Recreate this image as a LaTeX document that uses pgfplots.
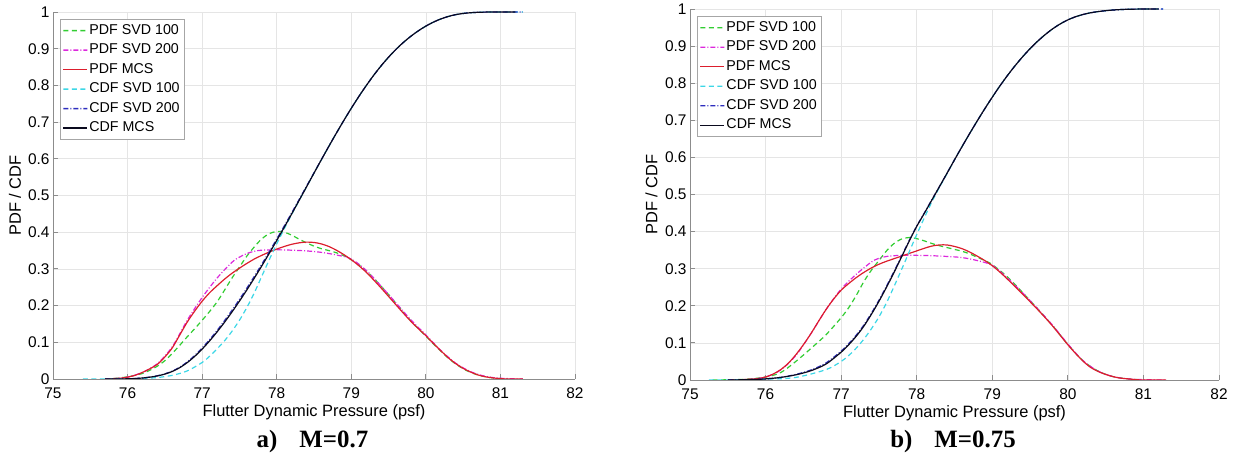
\documentclass[border=0pt]{standalone}
\usepackage{pgfplots}
\pgfplotsset{compat=1.18}
\usepackage{fontspec}
\setmainfont{Liberation Sans}
\newfontfamily\capfont{Liberation Serif}
\definecolor{cG}{RGB}{50,205,50}
\definecolor{cM}{RGB}{220,40,220}
\definecolor{cR}{RGB}{220,30,45}
\definecolor{cC}{RGB}{60,215,230}
\definecolor{cB}{RGB}{45,45,190}
\definecolor{cK}{RGB}{10,10,30}
\newcommand{\lr}[2]{\pgfpathrectangle{\pgfpoint{#1bp}{-0.65bp}}{\pgfpoint{#2bp}{1.3bp}}}
\newcommand{\legfill}[2]{\color{#1}\pgfsetfillcolor{#1}#2\pgfusepath{fill}}
\newcommand{\dashA}{\lr{0}{5}\lr{8.5}{5}\lr{17}{5}}
\newcommand{\dashB}{\lr{0}{5}\lr{7}{1}\lr{10}{5}\lr{17}{1}\lr{20}{4}}
\newcommand{\dashN}{\lr{0}{24}}
\pgfplotsset{
 mystyle/.style={
  scale only axis, xmin=75, xmax=82, ymin=0, ymax=1,
  xtick={75,76,77,78,79,80,81,82},
  ytick={0,0.1,0.2,0.3,0.4,0.5,0.6,0.7,0.8,0.9,1},
  axis x line*=bottom, axis y line*=left,
  axis line style={black!45, line width=0.8bp},
  tick align=inside, major tick length=5bp,
  tick style={black!45, line width=0.8bp},
  grid=major, major grid style={black!10, line width=0.6bp},
  /pgf/number format/assume math mode=true,
  tick label style={font=\fontsize{15.5}{18}\selectfont},
  xticklabel style={yshift=-5bp},
  label style={font=\fontsize{16.5}{19}\selectfont},
  xlabel={Flutter Dynamic Pressure (psf)}, ylabel={PDF / CDF},
  xlabel style={at={(axis description cs:0.5,-0.09)}, anchor=center},
  ylabel style={at={(axis description cs:-0.073,0.5)}, anchor=center},
  legend cell align=left,
  legend style={at={(0.0134,0.981)}, anchor=north west, draw=black!35, line width=0.8bp, fill=white,
    font=\fontsize{14.3}{16}\selectfont, inner xsep=3bp, inner ysep=2bp, row sep=1bp,
    nodes={inner xsep=2bp, inner ysep=2.5bp, text height=10.5bp, text depth=3bp}},
 },
 sG/.style={draw=cG, line width=1.2bp, dash pattern=on 5bp off 3.5bp, legend image code/.code={\legfill{cG}{\dashA}}},
 sM/.style={draw=cM, line width=1.2bp, dash pattern=on 5bp off 2bp on 1bp off 2bp, legend image code/.code={\legfill{cM}{\dashB}}},
 sR/.style={draw=cR, line width=1.2bp, legend image code/.code={\legfill{cR}{\dashN}}},
 sC/.style={draw=cC, line width=1.2bp, dash pattern=on 5bp off 3.5bp, legend image code/.code={\legfill{cC}{\dashA}}},
 sB/.style={draw=cB, line width=1.2bp, dash pattern=on 5bp off 2bp on 1bp off 2bp, legend image code/.code={\legfill{cB}{\dashB}}},
 sK/.style={draw=cK, line width=1.2bp, legend image code/.code={\legfill{cK}{\dashN}}},
}
\begin{document}
\begin{tikzpicture}
\path[use as bounding box] (0,0) rectangle (1237bp,463bp);
% ---------------- a) M=0.7 ----------------
\begin{axis}[mystyle, at={(53bp,84bp)}, anchor=south west, width=522bp, height=367bp]
\addplot[sG, smooth] coordinates {(75.7,0)(75.8,0.001)(75.9,0.003)(76.0,0.006)(76.1,0.010)(76.2,0.015)(76.3,0.024)(76.4,0.035)(76.5,0.050)(76.6,0.070)(76.7,0.092)(76.8,0.115)(76.9,0.137)(77.0,0.160)(77.1,0.184)(77.2,0.210)(77.3,0.242)(77.4,0.275)(77.5,0.305)(77.6,0.335)(77.7,0.360)(77.8,0.382)(77.9,0.396)(78.0,0.402)(78.1,0.400)(78.2,0.392)(78.3,0.381)(78.4,0.371)(78.5,0.362)(78.6,0.355)(78.7,0.350)(78.8,0.344)(78.9,0.336)(79.0,0.325)(79.1,0.312)(79.2,0.295)(79.3,0.275)(79.4,0.253)(79.5,0.230)(79.6,0.206)(79.7,0.182)(79.8,0.158)(79.9,0.137)(80.0,0.117)(80.1,0.096)(80.2,0.076)(80.3,0.057)(80.4,0.041)(80.5,0.028)(80.6,0.018)(80.7,0.011)(80.8,0.006)(80.9,0.003)(81.0,0.001)(81.1,0)};
\addlegendentry{PDF SVD 100}
\addplot[sM, smooth] coordinates {(75.7,0)(75.9,0.002)(76.0,0.005)(76.2,0.018)(76.4,0.042)(76.6,0.088)(76.8,0.160)(77.0,0.222)(77.2,0.275)(77.4,0.318)(77.5,0.332)(77.6,0.342)(77.7,0.348)(77.8,0.351)(78.0,0.352)(78.2,0.351)(78.4,0.349)(78.6,0.345)(78.8,0.338)(79.0,0.327)(79.2,0.296)(79.4,0.253)(79.6,0.207)(79.8,0.161)(80.0,0.120)(80.2,0.078)(80.4,0.043)(80.6,0.020)(80.8,0.007)(81.0,0.002)(81.3,0)};
\addlegendentry{PDF SVD 200}
\addplot[sR, smooth] coordinates {(75.7,0)(75.8,0.001)(75.9,0.002)(76.0,0.005)(76.1,0.010)(76.2,0.018)(76.3,0.028)(76.4,0.040)(76.5,0.060)(76.6,0.085)(76.7,0.120)(76.8,0.155)(76.9,0.185)(77.0,0.212)(77.1,0.235)(77.2,0.254)(77.3,0.272)(77.4,0.288)(77.5,0.302)(77.6,0.315)(77.7,0.327)(77.8,0.337)(77.9,0.346)(78.0,0.354)(78.1,0.361)(78.2,0.367)(78.3,0.371)(78.4,0.373)(78.5,0.372)(78.6,0.368)(78.7,0.361)(78.8,0.351)(78.9,0.339)(79.0,0.325)(79.1,0.309)(79.2,0.291)(79.3,0.270)(79.4,0.248)(79.5,0.225)(79.6,0.202)(79.7,0.179)(79.8,0.157)(79.9,0.137)(80.0,0.118)(80.1,0.097)(80.2,0.077)(80.3,0.058)(80.4,0.042)(80.5,0.029)(80.6,0.019)(80.7,0.011)(80.8,0.006)(80.9,0.003)(81.0,0.001)(81.1,0)(81.3,0)};
\addlegendentry{PDF MCS}
\addplot[sC, smooth] coordinates {(75.4,0)(75.7,0.0001)(76.0,0.0004)(76.2,0.0015)(76.4,0.004)(76.6,0.010)(76.8,0.022)(77.0,0.045)(77.1,0.062)(77.2,0.082)(77.3,0.104)(77.4,0.130)(77.5,0.160)(77.6,0.195)(77.7,0.235)(77.8,0.280)(77.9,0.325)(78.0,0.368)(78.1,0.409)(78.2,0.448)(78.3,0.486)(78.4,0.5236)(78.5,0.5609)(78.6,0.5979)(78.7,0.6343)(78.8,0.6699)(78.9,0.7044)(79.0,0.7376)(79.1,0.7693)(79.2,0.7993)(79.3,0.8274)(79.4,0.8533)(79.5,0.8769)(79.6,0.8983)(79.7,0.9173)(79.8,0.9341)(79.9,0.9488)(80.0,0.9616)(80.1,0.9723)(80.2,0.9810)(80.3,0.9878)(80.4,0.9928)(80.5,0.9960)(80.6,0.9980)(80.7,0.9992)(80.8,0.9997)(81.0,1.0)(81.3,1.0)};
\addlegendentry{CDF SVD 100}
\addplot[sB, smooth] coordinates {(75.7,0)(75.9,0.0002)(76.0,0.0005)(76.1,0.0014)(76.2,0.0029)(76.3,0.0053)(76.4,0.0089)(76.5,0.0141)(76.6,0.0215)(76.7,0.0322)(76.8,0.0465)(76.9,0.0640)(77.0,0.0845)(77.1,0.1072)(77.2,0.1320)(77.3,0.1590)(77.4,0.1872)(77.5,0.2168)(77.6,0.2477)(77.7,0.2798)(77.8,0.3128)(77.9,0.3468)(78.0,0.3814)(78.1,0.4166)(78.2,0.4525)(78.3,0.4888)(78.4,0.5254)(78.5,0.5620)(78.6,0.5985)(78.7,0.6346)(78.8,0.6700)(78.9,0.7044)(79.0,0.7376)(79.1,0.7693)(79.2,0.7993)(79.3,0.8274)(79.4,0.8533)(79.5,0.8769)(79.6,0.8983)(79.7,0.9173)(79.8,0.9341)(79.9,0.9488)(80.0,0.9616)(80.1,0.9723)(80.2,0.9810)(80.3,0.9878)(80.4,0.9928)(80.5,0.9960)(80.6,0.9980)(80.7,0.9992)(80.8,0.9997)(81.0,1.0)(81.3,1.0)};
\addlegendentry{CDF SVD 200}
\addplot[sK, smooth] coordinates {(75.7,0)(75.9,0.0002)(76.0,0.0005)(76.1,0.0013)(76.2,0.0027)(76.3,0.005)(76.4,0.0084)(76.5,0.0134)(76.6,0.0206)(76.7,0.0309)(76.8,0.0446)(76.9,0.0616)(77.0,0.0815)(77.1,0.1038)(77.2,0.1283)(77.3,0.1546)(77.4,0.1826)(77.5,0.2121)(77.6,0.2429)(77.7,0.2750)(77.8,0.3082)(77.9,0.3424)(78.0,0.3774)(78.1,0.4131)(78.2,0.4495)(78.3,0.4864)(78.4,0.5236)(78.5,0.5609)(78.6,0.5979)(78.7,0.6343)(78.8,0.6699)(78.9,0.7044)(79.0,0.7376)(79.1,0.7693)(79.2,0.7993)(79.3,0.8274)(79.4,0.8533)(79.5,0.8769)(79.6,0.8983)(79.7,0.9173)(79.8,0.9341)(79.9,0.9488)(80.0,0.9616)(80.1,0.9723)(80.2,0.9810)(80.3,0.9878)(80.4,0.9928)(80.5,0.9960)(80.6,0.9980)(80.7,0.9992)(80.8,0.9997)(81.0,1.0)(81.2,1.0)};
\addlegendentry{CDF MCS}
\end{axis}
% ---------------- b) M=0.75 ----------------
\begin{axis}[mystyle, at={(690bp,83bp)}, anchor=south west, width=529bp, height=371bp]
\addplot[sG, smooth] coordinates {(75.3,0)(75.6,0.001)(75.8,0.003)(76.0,0.008)(76.2,0.020)(76.4,0.050)(76.6,0.085)(76.8,0.122)(77.0,0.168)(77.1,0.195)(77.2,0.228)(77.3,0.265)(77.4,0.296)(77.5,0.322)(77.6,0.348)(77.7,0.368)(77.8,0.380)(77.9,0.384)(78.0,0.381)(78.1,0.375)(78.2,0.368)(78.3,0.362)(78.4,0.357)(78.5,0.352)(78.6,0.347)(78.7,0.340)(78.8,0.331)(78.9,0.322)(79.0,0.311)(79.2,0.278)(79.4,0.236)(79.6,0.192)(79.8,0.146)(80.0,0.096)(80.2,0.052)(80.4,0.024)(80.6,0.009)(80.8,0.003)(81.0,0)};
\addlegendentry{PDF SVD 100}
\addplot[sM, smooth] coordinates {(75.5,0)(75.8,0.002)(76.0,0.008)(76.2,0.027)(76.4,0.066)(76.6,0.125)(76.8,0.190)(77.0,0.245)(77.2,0.285)(77.4,0.318)(77.5,0.328)(77.6,0.333)(77.7,0.335)(77.8,0.336)(78.0,0.336)(78.2,0.335)(78.4,0.333)(78.6,0.330)(78.8,0.322)(79.0,0.309)(79.2,0.275)(79.4,0.235)(79.6,0.192)(79.8,0.147)(80.0,0.097)(80.2,0.052)(80.4,0.024)(80.6,0.009)(80.8,0.003)(81.0,0.001)(81.3,0)};
\addlegendentry{PDF SVD 200}
\addplot[sR, smooth] coordinates {(75.5,0)(75.7,0.001)(75.9,0.004)(76.0,0.008)(76.1,0.016)(76.2,0.028)(76.3,0.045)(76.4,0.068)(76.5,0.095)(76.6,0.125)(76.7,0.158)(76.8,0.190)(76.9,0.218)(77.0,0.242)(77.1,0.260)(77.2,0.276)(77.3,0.290)(77.4,0.302)(77.5,0.312)(77.6,0.320)(77.7,0.327)(77.8,0.334)(77.9,0.341)(78.0,0.348)(78.1,0.355)(78.2,0.361)(78.3,0.364)(78.4,0.364)(78.5,0.360)(78.6,0.354)(78.7,0.345)(78.8,0.334)(78.9,0.322)(79.0,0.308)(79.1,0.291)(79.2,0.272)(79.3,0.252)(79.4,0.232)(79.5,0.211)(79.6,0.190)(79.7,0.168)(79.8,0.145)(79.9,0.120)(80.0,0.095)(80.1,0.072)(80.2,0.051)(80.3,0.034)(80.4,0.023)(80.5,0.015)(80.6,0.009)(80.7,0.005)(80.8,0.003)(80.9,0.001)(81.0,0)(81.3,0)};
\addlegendentry{PDF MCS}
\addplot[sC, smooth] coordinates {(75.25,0)(75.5,0.0003)(76.0,0.002)(76.4,0.007)(76.8,0.028)(77.0,0.050)(77.1,0.066)(77.2,0.086)(77.3,0.110)(77.4,0.138)(77.5,0.170)(77.6,0.208)(77.7,0.252)(77.8,0.298)(77.9,0.345)(78.0,0.392)(78.1,0.437)(78.2,0.480)(78.3,0.519)(78.4,0.556)(78.5,0.5935)(78.6,0.6292)(78.7,0.6642)(78.8,0.6981)(78.9,0.7309)(79.0,0.7624)(79.1,0.7924)(79.2,0.8205)(79.3,0.8467)(79.4,0.8709)(79.5,0.8931)(79.6,0.9131)(79.7,0.9310)(79.8,0.9467)(79.9,0.9599)(80.0,0.9707)(80.1,0.9790)(80.2,0.9852)(80.3,0.9898)(80.4,0.9930)(80.5,0.9955)(80.6,0.9973)(80.7,0.9985)(80.8,0.9993)(81.0,0.9999)(81.26,1)};
\addlegendentry{CDF SVD 100}
\addplot[sB, smooth] coordinates {(75.5,0)(75.8,0.001)(76.0,0.003)(76.2,0.007)(76.4,0.015)(76.6,0.027)(76.8,0.046)(77.0,0.078)(77.1,0.098)(77.2,0.121)(77.3,0.148)(77.4,0.180)(77.5,0.215)(77.6,0.253)(77.7,0.293)(77.8,0.334)(77.9,0.376)(78.0,0.415)(78.1,0.450)(78.2,0.486)(78.3,0.521)(78.4,0.557)(78.5,0.5935)(78.6,0.6292)(78.7,0.6642)(78.8,0.6981)(78.9,0.7309)(79.0,0.7624)(79.1,0.7924)(79.2,0.8205)(79.3,0.8467)(79.4,0.8709)(79.5,0.8931)(79.6,0.9131)(79.7,0.9310)(79.8,0.9467)(79.9,0.9599)(80.0,0.9707)(80.1,0.9790)(80.2,0.9852)(80.3,0.9898)(80.4,0.9930)(80.5,0.9955)(80.6,0.9973)(80.7,0.9985)(80.8,0.9993)(81.0,0.9999)(81.26,1)};
\addlegendentry{CDF SVD 200}
\addplot[sK, smooth] coordinates {(75.5,0)(75.8,0.001)(76.0,0.003)(76.2,0.007)(76.4,0.014)(76.6,0.025)(76.8,0.043)(77.0,0.075)(77.1,0.095)(77.2,0.118)(77.3,0.145)(77.4,0.177)(77.5,0.212)(77.6,0.250)(77.7,0.290)(77.8,0.332)(77.9,0.374)(78.0,0.414)(78.1,0.449)(78.2,0.485)(78.3,0.521)(78.4,0.557)(78.5,0.5935)(78.6,0.6292)(78.7,0.6642)(78.8,0.6981)(78.9,0.7309)(79.0,0.7624)(79.1,0.7924)(79.2,0.8205)(79.3,0.8467)(79.4,0.8709)(79.5,0.8931)(79.6,0.9131)(79.7,0.9310)(79.8,0.9467)(79.9,0.9599)(80.0,0.9707)(80.1,0.9790)(80.2,0.9852)(80.3,0.9898)(80.4,0.9930)(80.5,0.9955)(80.6,0.9973)(80.7,0.9985)(80.8,0.9993)(81.0,0.9999)(81.2,1)};
\addlegendentry{CDF MCS}
\end{axis}
\node[font=\capfont\bfseries\fontsize{25}{28}\selectfont, anchor=base] at (312.5bp,16bp) {a)\hspace{22bp}M=0.7};
\node[font=\capfont\bfseries\fontsize{25}{28}\selectfont, anchor=base] at (953bp,16bp) {b)\hspace{22bp}M=0.75};
\end{tikzpicture}
\end{document}
